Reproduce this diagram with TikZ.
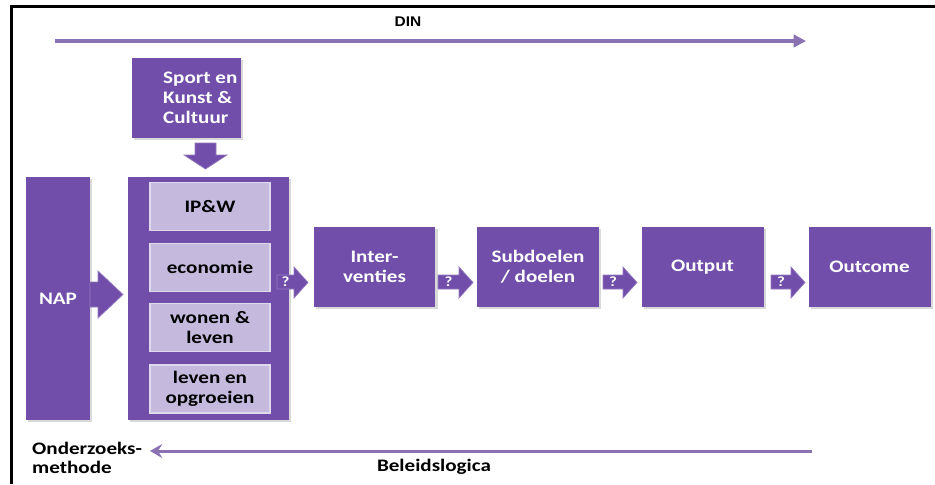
\documentclass[tikz,border=0pt]{standalone}
\usepackage{fontspec}
\usepackage{tikz}
\usetikzlibrary{arrows.meta,shadows,calc}
\newfontfamily\boxfont{Carlito}[FakeStretch=1.2]
\newfontfamily\dinfont{Liberation Sans}[FakeStretch=1.1]
\definecolor{boxpurple}{RGB}{112,78,170}
\definecolor{lightlav}{RGB}{197,186,222}
\definecolor{arrowlav}{RGB}{138,113,178}

\begin{document}
\begin{tikzpicture}[x=0.02cm,y=-0.02cm,line join=miter,
  pbox/.style={fill=boxpurple,inner sep=0pt,drop shadow={shadow xshift=1.2pt,shadow yshift=-1.2pt,opacity=0.3}},
  lbox/.style={fill=lightlav,draw=white!45!lightlav,line width=1pt,inner sep=0pt,minimum width=2.4cm,minimum height=0.96cm,text=black,font=\boxfont\bfseries\fontsize{10}{11.3}\selectfont,align=center},
  wtext/.style={text=white,font=\boxfont\bfseries\fontsize{10}{11.3}\selectfont,align=center},
  btext/.style={text=black,font=\boxfont\bfseries\fontsize{10}{11}\selectfont},
  blockarr/.style={fill=boxpurple,draw=white!25!boxpurple,line width=0.4pt},
  qmark/.style={text=white,font=\boxfont\bfseries\fontsize{8}{9}\selectfont,inner sep=0pt}]
\useasboundingbox (0,0) rectangle (935,484);
\draw[line width=0.06cm] (11.5,484) -- (11.5,6.5) -- (935,6.5);

\node[font=\dinfont\bfseries\fontsize{8}{9}\selectfont] (din) at (408,22) {DIN};
\coordinate (dinstart) at (55,41);
\coordinate (dinend) at (806,41);
\draw[arrowlav,line width=0.08cm,-{Triangle[length=7pt,width=7pt]}] (dinstart) -- (dinend);

\node[pbox,minimum width=2.18cm,minimum height=1.6cm] (sport) at (186.5,98) {};
\node[wtext,align=left,anchor=west] (sporttxt) at (157,98) {Sport en\\Kunst \&\\Cultuur};
\fill[blockarr] (195,143) -- (216,143) -- (216,155) -- (227,155) -- (205.5,169) -- (184,155) -- (195,155) -- cycle;

\node[pbox,wtext,minimum width=1.28cm,minimum height=4.86cm] (nap) at (58,298.5) {NAP};
\fill[blockarr] (90,282) -- (98,282) -- (98,271) -- (123,294.5) -- (98,318) -- (98,307) -- (90,307) -- cycle;

\node[pbox,minimum width=3.22cm,minimum height=4.86cm] (thema) at (208.5,298.5) {};
\node[lbox] (ipw) at (210,206.5) {IP\&W};
\node[lbox] (econ) at (210,267.5) {economie};
\node[lbox] (wonen) at (210,327.5) {wonen \&\\leven};
\node[lbox] (opgroei) at (210,389) {leven en\\opgroeien};

\node[pbox,wtext,minimum width=2.44cm,minimum height=1.6cm] (interv) at (374.5,267) {Inter-\\venties};
\node[pbox,wtext,minimum width=2.44cm,minimum height=1.6cm] (subdoel) at (538,267) {Subdoelen\\/ doelen};
\node[pbox,wtext,minimum width=2.44cm,minimum height=1.6cm] (output) at (702.5,267) {Output};
\node[pbox,wtext,minimum width=2.44cm,minimum height=1.6cm] (outcome) at (869.5,267) {Outcome};

\foreach \a/\b [count=\i] in {277/308,438/473,603/637,771/805}{
  \fill[blockarr] (\a,275) -- (\b-14,275) -- (\b-14,267) -- (\b,282.5) -- (\b-14,298) -- (\b-14,289) -- (\a,289) -- cycle;
  \node[qmark] (q\i) at ({(\a+\b-14)/2},282) {?};
}

\node[btext,align=left,anchor=west] (methode) at (26,458) {Onderzoeks-\\methode};
\coordinate (belstart) at (812,451);
\coordinate (belend) at (150,451);
\draw[arrowlav,line width=0.06cm,-{Stealth[length=7pt,width=8pt,inset=2.5pt]}] (belstart) -- (belend);
\node[btext] (beleid) at (434,467) {Beleidslogica};
\end{tikzpicture}
\end{document}
